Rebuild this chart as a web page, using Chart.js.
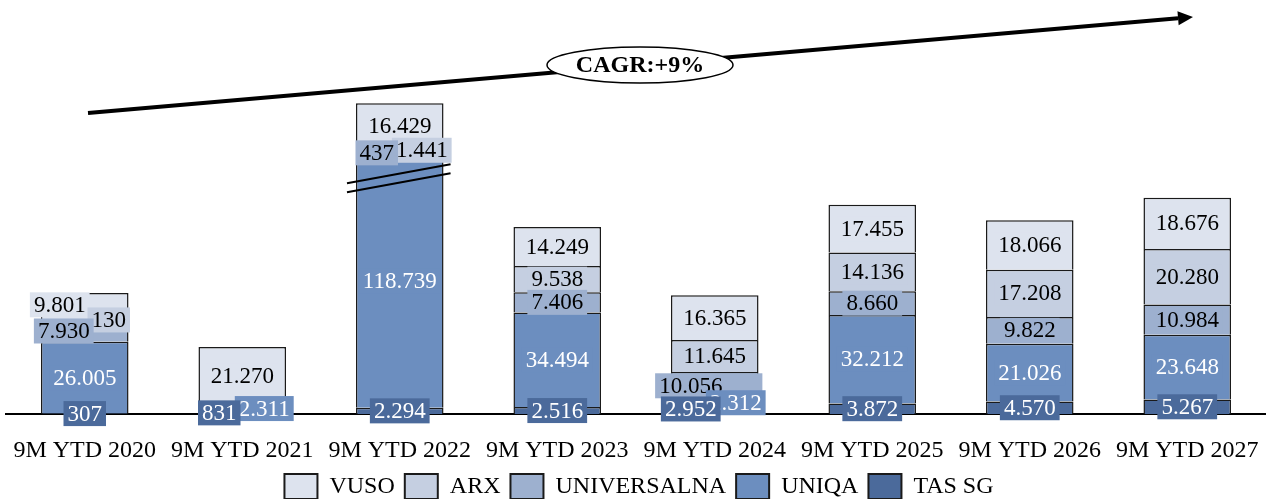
<!DOCTYPE html>
<html>
<head>
<meta charset="utf-8">
<script src="https://cdn.jsdelivr.net/npm/chart.js@4"></script>
<style>
  html, body { margin: 0; padding: 0; background: #fff; overflow: hidden; }
  #wrap { width: 1266px; height: 499px; }
</style>
</head>
<body>
<div id="wrap"><canvas id="chart" width="1266" height="499"></canvas></div>
<script>
const periods = ['9M YTD 2020', '9M YTD 2021', '9M YTD 2022', '9M YTD 2023',
                 '9M YTD 2024', '9M YTD 2025', '9M YTD 2026', '9M YTD 2027'];

// stacked bottom to top
const tasSg       = [307, 831, 2294, 2516, 2952, 3872, 4570, 5267];
const uniqa       = [26005, 2311, 118739, 34494, 2312, 32212, 21026, 23648];
const universalna = [7930, null, 437, 7406, 10056, 8660, 9822, 10984];
const arx         = [130, null, 1441, 9538, 11645, 14136, 17208, 20280];
const vuso        = [9801, 21270, 16429, 14249, 16365, 17455, 18066, 18676];

const cagrText = 'CAGR:+9%';

const COLORS = {
  'TAS SG': '#4b6a9b', 'UNIQA': '#6c8ebf', 'UNIVERSALNA': '#9db0cf',
  'ARX': '#c5cfe1', 'VUSO': '#dde3ee',
};
const LABEL_COLOR = {
  'TAS SG': '#fff', 'UNIQA': '#fff', 'UNIVERSALNA': '#000', 'ARX': '#000', 'VUSO': '#000',
};
// small segments get their label pushed aside: [dx, dy, extra box width]
const LABEL_NUDGE = {
  'VUSO-0': [-25, -1.5, 0], 'ARX-0': [24, 0, 0], 'UNIVERSALNA-0': [-21, 0, 0],
  'TAS SG-1': [-23, 0, 0], 'UNIQA-1': [22, 0, 0],
  'UNIVERSALNA-2': [-23, 0, 0], 'ARX-2': [22, 0, 0],
  'TAS SG-4': [-24, -1, 0], 'UNIQA-4': [21, 0, 0], 'UNIVERSALNA-4': [-24, 0, 36],
};

// the y axis skips this range so the tall bar fits
const BREAK_FROM = 86000, BREAK_TO = 112000;

class BrokenLinearScale extends Chart.LinearScale {
  getPixelForValue(value) {
    let v = value;
    if (v > BREAK_TO) v -= BREAK_TO - BREAK_FROM;
    else if (v > BREAK_FROM) v = BREAK_FROM;
    return super.getPixelForValue(v);
  }
}
BrokenLinearScale.id = 'brokenLinear';
Chart.register(BrokenLinearScale);

const SERIF = '"Liberation Serif", "Times New Roman", serif';
Chart.defaults.font.family = SERIF;
Chart.defaults.color = '#000';

const fmt = v => String(v).replace(/\B(?=(\d{3})+(?!\d))/g, '.');

const series = [
  ['TAS SG', tasSg], ['UNIQA', uniqa], ['UNIVERSALNA', universalna], ['ARX', arx], ['VUSO', vuso],
];
const datasets = series.map(([label, data]) => ({
  label, data,
  backgroundColor: COLORS[label],
  borderColor: '#1a1a1a',
  borderWidth: 1.5,
  barPercentage: 0.556,
  categoryPercentage: 1,
}));

const axisBreak = {
  id: 'axisBreak',
  afterDatasetsDraw(chart) {
    const ctx = chart.ctx;
    const y = chart.scales.y.getPixelForValue(BREAK_FROM);
    periods.forEach((p, i) => {
      const total = series.reduce((s, [, d]) => s + (d[i] || 0), 0);
      if (total < BREAK_TO) return;
      const bar = chart.getDatasetMeta(1).data[i];
      const left = bar.x - bar.width / 2 - 9, right = bar.x + bar.width / 2 + 7;
      ctx.save();
      ctx.strokeStyle = '#000';
      ctx.lineWidth = 2;
      [-4.5, 4.5].forEach(off => {
        ctx.beginPath();
        ctx.moveTo(left, y + off + 9.5);
        ctx.lineTo(right, y + off - 9.5);
        ctx.stroke();
      });
      ctx.restore();
    });
  },
};

const valueLabels = {
  id: 'valueLabels',
  afterDatasetsDraw(chart) {
    const ctx = chart.ctx;
    ctx.save();
    ctx.font = '23px ' + SERIF;
    ctx.textAlign = 'center';
    ctx.textBaseline = 'middle';
    for (let d = chart.data.datasets.length - 1; d >= 0; d--) {
      const ds = chart.data.datasets[d];
      chart.getDatasetMeta(d).data.forEach((bar, i) => {
        const v = ds.data[i];
        if (v == null) return;
        const [dx, dy, extra] = LABEL_NUDGE[ds.label + '-' + i] || [0, 0, 0];
        const text = fmt(v);
        const x = bar.x + dx, y = (bar.y + bar.base) / 2 + dy;
        const w = ctx.measureText(text).width + 8;
        ctx.fillStyle = ds.backgroundColor;
        ctx.fillRect(x - w / 2, y - 12.5, w + extra, 25);
        ctx.fillStyle = LABEL_COLOR[ds.label];
        ctx.fillText(text, x, y + 1);
      });
    }
    ctx.restore();
  },
};

const cagrArrow = {
  id: 'cagrArrow',
  afterDraw(chart) {
    const ctx = chart.ctx;
    const x0 = 88, y0 = 113, x1 = 1193, y1 = 17;
    const a = Math.atan2(y1 - y0, x1 - x0);
    const headLen = 15, headHalf = 7;
    const bx = x1 - headLen * Math.cos(a), by = y1 - headLen * Math.sin(a);
    ctx.save();
    ctx.strokeStyle = '#000';
    ctx.fillStyle = '#000';
    ctx.lineWidth = 4;
    ctx.beginPath();
    ctx.moveTo(x0, y0);
    ctx.lineTo(bx, by);
    ctx.stroke();
    ctx.beginPath();
    ctx.moveTo(x1, y1);
    ctx.lineTo(bx - headHalf * Math.sin(a), by + headHalf * Math.cos(a));
    ctx.lineTo(bx + headHalf * Math.sin(a), by - headHalf * Math.cos(a));
    ctx.closePath();
    ctx.fill();

    const cx = 640, cy = 65;
    ctx.beginPath();
    ctx.ellipse(cx, cy, 93, 18, 0, 0, Math.PI * 2);
    ctx.fillStyle = '#fff';
    ctx.fill();
    ctx.lineWidth = 1.5;
    ctx.stroke();
    ctx.fillStyle = '#000';
    ctx.font = 'bold 24px ' + SERIF;
    ctx.textAlign = 'center';
    ctx.textBaseline = 'middle';
    ctx.fillText(cagrText, cx, cy + 1);
    ctx.restore();
  },
};

new Chart(document.getElementById('chart'), {
  type: 'bar',
  data: { labels: periods, datasets },
  options: {
    responsive: false,
    animation: false,
    events: [],
    layout: { padding: { top: 0, left: 6, right: -6, bottom: -10 } },
    plugins: {
      tooltip: { enabled: false },
      legend: {
        position: 'bottom',
        reverse: true,
        labels: {
          boxWidth: 33, boxHeight: 25, padding: 10,
          font: { size: 24, lineHeight: 1 },
          generateLabels(chart) {
            const items = Chart.defaults.plugins.legend.labels.generateLabels(chart);
            items.forEach(it => { it.lineWidth = 2; it.strokeStyle = '#1a1a1a'; });
            return items;
          },
        },
      },
    },
    scales: {
      x: {
        stacked: true,
        grid: { display: false, drawTicks: false },
        border: { display: true, color: '#000', width: 2 },
        ticks: { padding: 24.6, maxRotation: 0, autoSkip: false, font: { size: 24, lineHeight: 1 } },
        afterFit(scale) {
          scale.height = 50;
          scale.paddingLeft = 0;
          scale.paddingRight = 0;
        },
      },
      y: {
        type: 'brokenLinear',
        stacked: true,
        display: false,
        min: 0,
        max: 151000,
      },
    },
  },
  plugins: [axisBreak, valueLabels, cagrArrow],
});
</script>
</body>
</html>
